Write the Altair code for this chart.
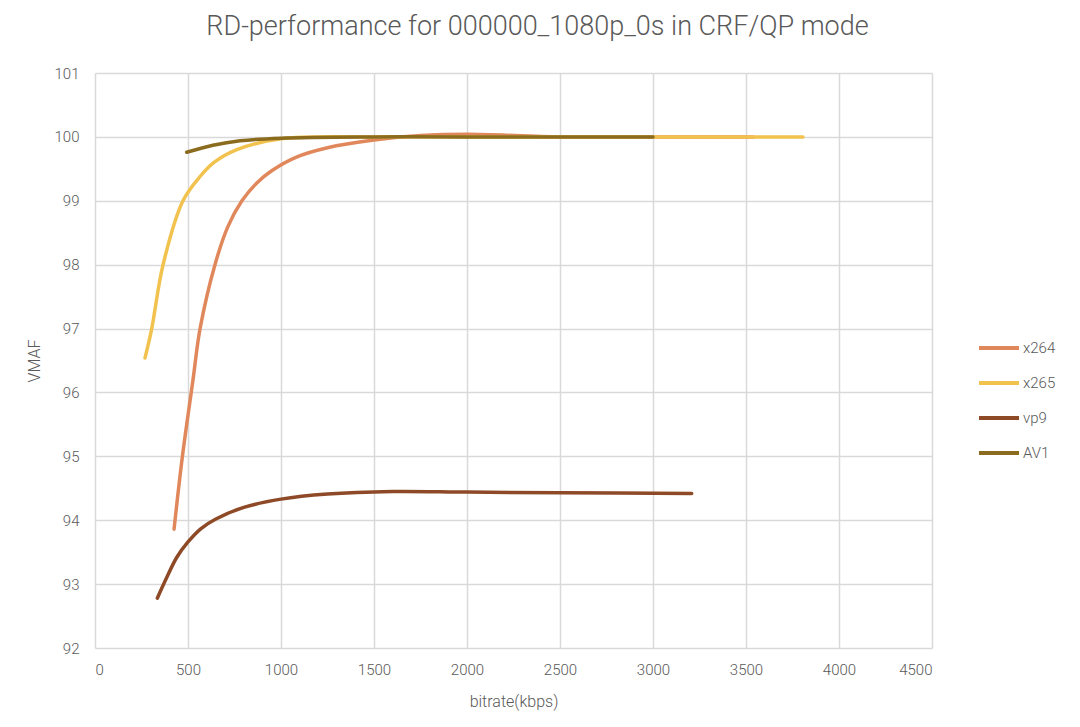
import altair as alt
import pandas as pd

series_names = ["x264", "x265", "vp9", "AV1"]
colors = ["#E0885B", "#F2C24F", "#8E4A27", "#8B6C1F"]

x264_bitrate = [425, 470, 527, 565, 645, 715, 790, 870, 950, 1080, 1250, 1500, 1750, 2000, 2500, 3000, 3540]
x264_vmaf = [93.86, 95.0, 96.2, 97.0, 98.0, 98.6, 99.0, 99.28, 99.47, 99.68, 99.83, 99.95, 100.02, 100.04, 100.0, 100.0, 100.0]

x265_bitrate = [269, 305, 366, 473, 565, 640, 763, 1000, 1500, 2000, 3000, 3806]
x265_vmaf = [96.54, 97.0, 98.0, 99.0, 99.38, 99.6, 99.8, 99.97, 100.0, 100.0, 100.0, 100.0]

vp9_bitrate = [335, 385, 440, 500, 570, 650, 800, 1000, 1250, 1600, 2000, 2500, 3208]
vp9_vmaf = [92.78, 93.1, 93.42, 93.66, 93.87, 94.02, 94.2, 94.33, 94.41, 94.45, 94.44, 94.43, 94.42]

av1_bitrate = [493, 634, 780, 1000, 1500, 2000, 3000]
av1_vmaf = [99.76, 99.87, 99.94, 99.98, 100.0, 100.0, 100.0]

x_ticks = [0, 500, 1000, 1500, 2000, 2500, 3000, 3500, 4000, 4500]
y_ticks = [92, 93, 94, 95, 96, 97, 98, 99, 100, 101]

rows = []
for name, xs, ys in [("x264", x264_bitrate, x264_vmaf), ("x265", x265_bitrate, x265_vmaf),
                     ("vp9", vp9_bitrate, vp9_vmaf), ("AV1", av1_bitrate, av1_vmaf)]:
    for i, (a, b) in enumerate(zip(xs, ys)):
        rows.append({"codec": name, "bitrate": a, "vmaf": b, "order": i})
df = pd.DataFrame(rows)

FONT = "Roboto"
GREY = "#595959"

chart = alt.Chart(df).mark_line(interpolate="catmull-rom", strokeWidth=3.5, strokeCap="round").encode(
    x=alt.X("bitrate:Q", scale=alt.Scale(domain=[0, 4500], nice=False),
            axis=alt.Axis(values=x_ticks, title="bitrate(kbps)", format="d")),
    y=alt.Y("vmaf:Q", scale=alt.Scale(domain=[92, 101], nice=False, zero=False),
            axis=alt.Axis(values=y_ticks, title="VMAF", format="d")),
    color=alt.Color("codec:N", scale=alt.Scale(domain=series_names, range=colors),
                    sort=series_names,
                    legend=alt.Legend(title=None, orient="none", legendX=882, legendY=253,
                                      symbolType="stroke", symbolSize=1600, symbolStrokeWidth=4,
                                      labelFontSize=15, labelColor=GREY, labelFont=FONT,
                                      labelFontWeight=300,
                                      labelOffset=2, rowPadding=5)),
    order="order:Q",
).properties(
    width=837, height=575,
    title=alt.Title("RD-performance for 000000_1080p_0s in CRF/QP mode", fontSize=27,
                    font=FONT, fontWeight=300, color=GREY, anchor="middle", offset=25, dx=24),
    autosize=alt.AutoSizeParams(type="none"),
    padding={"left": 87, "top": 65, "right": 140, "bottom": 70},
).configure_view(stroke=None).configure_axis(
    grid=True, gridColor="#D9D9D9", gridWidth=1.5, domain=False, ticks=False,
    labelFont=FONT, labelFontSize=15, labelFontWeight=300, labelColor=GREY,
    titleFont=FONT, titleFontSize=16, titleColor=GREY, titleFontWeight=300,
).configure_axisX(labelPadding=14, titlePadding=16).configure_axisY(labelPadding=16, titlePadding=12)

chart.save("out.html", embed_options={"renderer": "svg", "actions": False})
